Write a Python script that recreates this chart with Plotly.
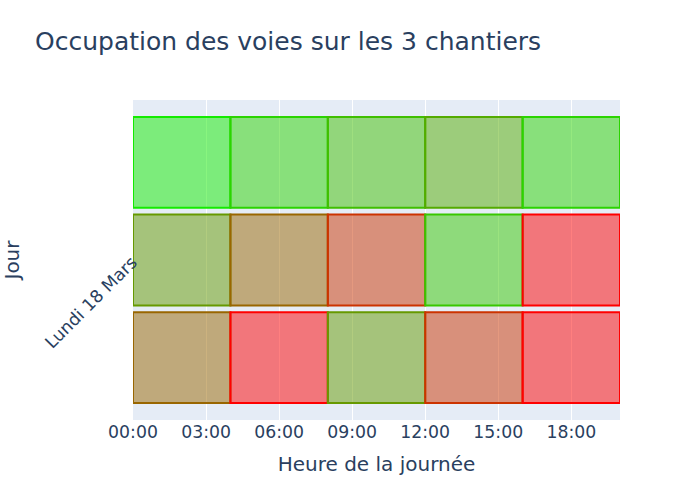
import plotly.graph_objects as go

# Data
jour = "Lundi 18 Mars"
debuts = ["2024-03-18 00:00", "2024-03-18 04:00", "2024-03-18 08:00",
          "2024-03-18 12:00", "2024-03-18 16:00"]
duree_h = [4, 4, 4, 4, 4]
chantiers = ["Chantier 1", "Chantier 2", "Chantier 3"]  # top -> bottom
occupation_pct = {
    "Chantier 1": [8, 17, 25, 33, 17],
    "Chantier 2": [40, 60, 80, 22, 100],
    "Chantier 3": [60, 100, 40, 80, 100],
}
x_range = ["2024-03-18 00:00", "2024-03-18 20:00"]


def couleur(p, alpha=None):
    t = p / 100.0
    r, g = round(255 * t), round(255 * (1 - t))
    if alpha is None:
        return f"rgb({r},{g},0)"
    return f"rgba({r},{g},0,{alpha})"


fig = go.Figure()
# plotly groups horizontal bars bottom-up, so add traces in reverse order
for ch in reversed(chantiers):
    occ = occupation_pct[ch]
    fig.add_trace(go.Bar(
        orientation="h",
        y=[jour] * len(debuts),
        base=debuts,
        x=[d * 3600 * 1000 for d in duree_h],
        name=ch,
        marker=dict(
            color=[couleur(p, 0.5) for p in occ],
            line=dict(color=[couleur(p) for p in occ], width=2),
        ),
        customdata=occ,
        hovertemplate=ch + "<br>%{base|%H:%M}<br>Occupation: %{customdata}%<extra></extra>",
        showlegend=False,
    ))

fig.update_layout(
    width=700, height=500,
    barmode="group",
    bargap=0.085,
    bargroupgap=0.07,
    font=dict(family="DejaVu Sans", size=17.3),
    title=dict(text="Occupation des voies sur les 3 chantiers", font=dict(size=25)),
    margin=dict(l=80, r=80, t=100, b=80),
    xaxis=dict(
        type="date",
        range=x_range,
        tickformat="%H:%M",
        dtick=3 * 3600 * 1000,
        tick0="2024-03-18 00:00",
        title=dict(text="Heure de la journée", font=dict(size=20)),
    ),
    yaxis=dict(
        tickangle=-45,
        automargin=True,
        title=dict(text="Jour", font=dict(size=20)),
    ),
)

fig.write_html("out.html")
